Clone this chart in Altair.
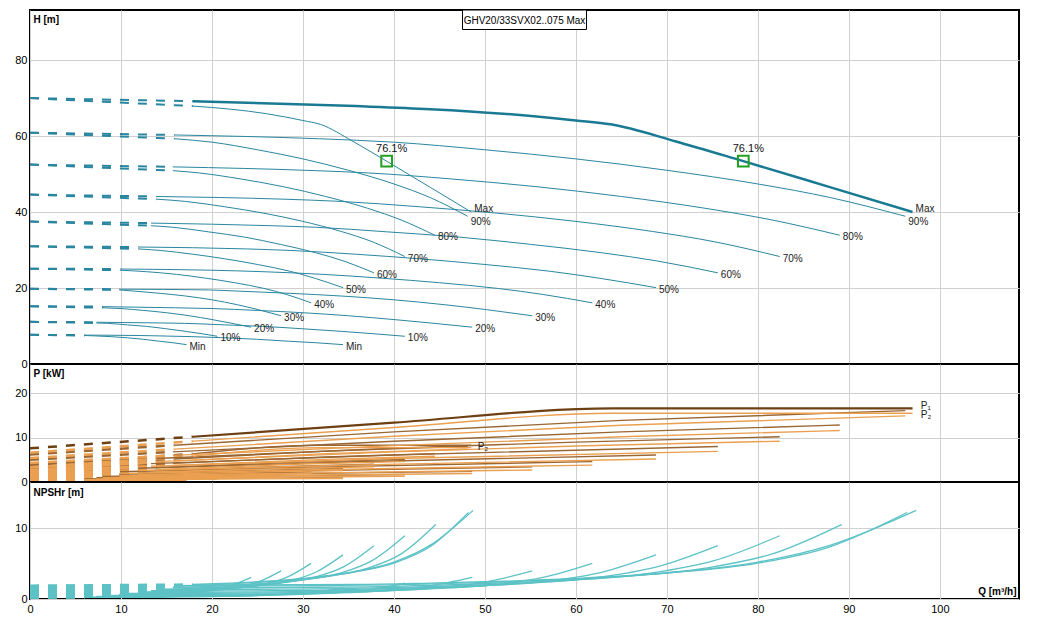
import altair as alt
import pandas as pd

SPEEDS = ["Max", "90%", "80%", "70%", "60%", "50%", "40%", "30%", "20%", "10%", "Min"]
X_TICKS = [0, 10, 20, 30, 40, 50, 60, 70, 80, 90, 100]
H_TICKS = [0, 20, 40, 60, 80]
P_TICKS = [0, 10, 20]
N_TICKS = [0, 10]
TITLE = "GHV20/33SVX02..075 Max"

# ---- Head, one pump (first point = shut-off, dashed up to the 2nd point)
H1_Q = [
    [0, 17.9, 22, 26, 30, 31.9, 35.5, 39.2, 44, 48.5],
    [0, 15.9, 20, 25, 30, 35, 40, 44, 48.1],
    [0, 15.7, 18.6, 23.2, 27.8, 32.5, 37.1, 40.8, 44.5],
    [0, 13.9, 17.1, 21.4, 25.7, 29.9, 34.2, 37.6, 41.2],
    [0, 13.3, 15.7, 19.6, 23.6, 27.5, 31.4, 34.5, 37.8],
    [0, 11.9, 14.3, 17.9, 21.4, 25.0, 28.6, 31.4, 34.4],
    [0, 9.9, 12.8, 16.1, 19.3, 22.5, 25.7, 28.2, 30.9],
    [0, 9.8, 11.4, 14.3, 17.1, 20.0, 22.8, 25.1, 27.6],
    [0, 8.0, 10.0, 12.5, 15.0, 17.5, 20.0, 22.0, 24.3],
    [0, 7.3, 8.5, 10.7, 12.8, 14.9, 17.1, 18.8, 20.6],
    [0, 6.0, 7.1, 8.9, 10.7, 12.5, 14.2, 15.7, 17.2],
]
H1_H = [
    [70.0, 67.9, 67.1, 65.9, 64.1, 63.1, 58.6, 53.4, 46.5, 40.0],
    [60.9, 59.3, 58.4, 56.4, 54.0, 51.0, 47.4, 43.8, 38.9],
    [52.5, 50.9, 50.3, 48.7, 46.7, 44.1, 41.0, 37.9, 33.9],
    [44.6, 43.4, 42.8, 41.4, 39.7, 37.6, 34.9, 32.2, 28.3],
    [37.5, 36.4, 36.0, 34.8, 33.4, 31.5, 29.3, 27.1, 24.0],
    [31.0, 30.3, 29.9, 28.9, 27.7, 26.2, 24.4, 22.5, 20.1],
    [25.1, 24.7, 24.3, 23.6, 22.6, 21.4, 19.9, 18.3, 16.1],
    [19.8, 19.5, 19.2, 18.6, 17.9, 16.9, 15.6, 14.3, 12.7],
    [15.2, 14.8, 14.6, 14.1, 13.5, 12.7, 11.7, 10.8, 9.7],
    [11.1, 10.8, 10.7, 10.3, 9.9, 9.3, 8.6, 8.0, 7.3],
    [7.7, 7.5, 7.4, 7.2, 6.9, 6.5, 6.0, 5.6, 5.1],
]
# ---- Head, two pumps
H2_Q = [
    [0, 17.9, 35.8, 44, 52, 60, 63.8, 71, 78.4, 88, 97.0],
    [0, 15.9, 31.8, 40, 50, 60, 70, 80, 88, 96.2],
    [0, 15.7, 31.4, 37.2, 46.4, 55.6, 65.0, 74.2, 81.6, 89.0],
    [0, 13.9, 27.8, 34.2, 42.8, 51.4, 59.8, 68.4, 75.2, 82.4],
    [0, 13.3, 26.6, 31.4, 39.2, 47.2, 55.0, 62.8, 69.0, 75.6],
    [0, 11.9, 23.8, 28.6, 35.8, 42.8, 50.0, 57.2, 62.8, 68.8],
    [0, 9.9, 19.8, 25.6, 32.2, 38.6, 45.0, 51.4, 56.4, 61.8],
    [0, 9.8, 19.6, 22.8, 28.6, 34.2, 40.0, 45.6, 50.2, 55.2],
    [0, 8.0, 16.0, 20.0, 25.0, 30.0, 35.0, 40.0, 44.0, 48.6],
    [0, 7.3, 14.6, 17.0, 21.4, 25.6, 29.8, 34.2, 37.6, 41.2],
    [0, 6.0, 12.0, 14.2, 17.8, 21.4, 25.0, 28.4, 31.4, 34.4],
]
H2_H = [
    [70.0, 69.2, 67.9, 67.1, 65.9, 64.1, 63.1, 58.6, 53.4, 46.5, 40.0],
    [60.9, 60.3, 59.3, 58.4, 56.4, 54.0, 51.0, 47.4, 43.8, 38.9],
    [52.5, 51.9, 50.9, 50.3, 48.7, 46.7, 44.1, 41.0, 37.9, 33.9],
    [44.6, 44.1, 43.4, 42.8, 41.4, 39.7, 37.6, 34.9, 32.2, 28.3],
    [37.5, 37.1, 36.4, 36.0, 34.8, 33.4, 31.5, 29.3, 27.1, 24.0],
    [31.0, 30.8, 30.3, 29.9, 28.9, 27.7, 26.2, 24.4, 22.5, 20.1],
    [25.1, 25.0, 24.7, 24.3, 23.6, 22.6, 21.4, 19.9, 18.3, 16.1],
    [19.8, 19.7, 19.5, 19.2, 18.6, 17.9, 16.9, 15.6, 14.3, 12.7],
    [15.2, 15.1, 14.8, 14.6, 14.1, 13.5, 12.7, 11.7, 10.8, 9.7],
    [11.1, 11.0, 10.8, 10.7, 10.3, 9.9, 9.3, 8.6, 8.0, 7.3],
    [7.7, 7.6, 7.5, 7.4, 7.2, 6.9, 6.5, 6.0, 5.6, 5.1],
]
# vertical label offsets (px) so that "Max" and "90%" at the curve ends stay readable
LABEL_DY = [-3, 6, 2, 2, 2, 2, 2, 2, 2, 2, 2]
MARK_Q = [39.2, 78.4]
MARK_H = [53.4, 53.4]
MARK_TXT = ["76.1%", "76.1%"]

# ---- Power, one pump
PS_Q = [
    [0, 17.9, 32.0, 48.5], [0, 15.9, 32.5, 48.1], [0, 15.7, 32.5, 44.5],
    [0, 13.9, 30.0, 41.2], [0, 13.3, 25.0, 37.8], [0, 11.9, 22.0, 34.4],
    [0, 9.9, 20.0, 30.9], [0, 9.8, 18.0, 27.6], [0, 8.0, 16.0, 24.3],
    [0, 7.3, 14.0, 20.6], [0, 6.0, 12.0, 17.2],
]
P1S = [
    [3.8, 6.35, 8.3, 8.3], [3.1, 5.2, 6.95, 8.05], [2.5, 4.2, 5.65, 6.4],
    [1.98, 3.25, 4.5, 5.1], [1.53, 2.55, 3.35, 4.0], [1.18, 1.95, 2.5, 3.05],
    [0.9, 1.38, 1.85, 2.3], [0.68, 1.08, 1.38, 1.7], [0.5, 0.77, 0.98, 1.2],
    [0.38, 0.58, 0.71, 0.85], [0.28, 0.4, 0.48, 0.55],
]
P2S = [
    [3.3, 5.8, 7.75, 7.75], [2.7, 4.7, 6.4, 7.45], [2.15, 3.75, 5.1, 5.8],
    [1.68, 2.85, 4.05, 4.6], [1.28, 2.2, 2.9, 3.45], [0.95, 1.65, 2.12, 2.6],
    [0.72, 1.13, 1.52, 1.9], [0.52, 0.86, 1.1, 1.35], [0.38, 0.6, 0.77, 0.95],
    [0.28, 0.43, 0.54, 0.65], [0.2, 0.29, 0.35, 0.4],
]
# ---- Power, two pumps
PD_Q = [
    [0, 17.9, 40.0, 64.0, 97.0], [0, 15.9, 40.0, 65.0, 96.2], [0, 15.7, 40.0, 65.0, 89.0],
    [0, 13.9, 40.0, 60.0, 82.4], [0, 13.3, 40.0, 75.6], [0, 11.9, 35.0, 68.8],
    [0, 9.9, 30.0, 61.8], [0, 9.8, 30.0, 55.2], [0, 8.0, 25.0, 48.6],
    [0, 7.3, 20.0, 41.2], [0, 6.0, 17.0, 34.4],
]
P1D = [
    [7.6, 10.2, 13.4, 16.6, 16.6], [6.2, 8.3, 11.3, 13.9, 16.1], [5.0, 6.8, 9.2, 11.3, 12.85],
    [3.95, 5.3, 7.6, 9.0, 10.2], [3.05, 4.15, 6.1, 8.0], [2.35, 3.1, 4.5, 6.1],
    [1.8, 2.3, 3.3, 4.6], [1.35, 1.75, 2.5, 3.4], [1.0, 1.25, 1.8, 2.4],
    [0.75, 0.95, 1.25, 1.7], [0.55, 0.7, 0.85, 1.1],
]
P2D = [
    [6.6, 9.2, 12.3, 15.5, 15.5], [5.4, 7.4, 10.3, 12.8, 14.9], [4.3, 6.0, 8.2, 10.2, 11.6],
    [3.35, 4.6, 6.8, 8.1, 9.2], [2.55, 3.55, 5.3, 6.9], [1.9, 2.6, 3.8, 5.2],
    [1.45, 1.9, 2.7, 3.8], [1.05, 1.4, 2.0, 2.7], [0.75, 0.95, 1.4, 1.9],
    [0.55, 0.7, 0.95, 1.3], [0.4, 0.5, 0.62, 0.8],
]
P_LABEL_TXT = ["P₂", "P₁", "P₂"]
P_LABEL_Q = [49.2, 97.9, 97.9]
P_LABEL_P = [7.8, 17.1, 15.0]

# ---- NPSHr, one pump
N1_Q = [
    [0, 17.9, 22, 26, 30, 35, 40, 44, 48.7],
    [0, 15.9, 20, 25, 30, 35, 40, 44, 48.2],
    [0, 15.7, 18.6, 23.2, 27.8, 32.5, 37.1, 40.8, 44.6],
    [0, 13.9, 17.1, 21.4, 25.7, 29.9, 34.2, 37.6, 41.2],
    [0, 13.3, 15.7, 19.6, 23.6, 27.5, 31.4, 34.5, 37.8],
    [0, 11.9, 14.3, 17.9, 21.4, 25.0, 28.6, 31.4, 34.4],
    [0, 9.9, 12.8, 16.1, 19.3, 22.5, 25.7, 28.2, 30.9],
    [0, 9.8, 11.4, 14.3, 17.1, 20.0, 22.8, 25.1, 27.6],
    [0, 8.0, 10.0, 12.5, 15.0, 17.5, 20.0, 22.0, 24.3],
    [0, 7.3, 8.5, 10.7, 12.8, 14.9, 17.1, 18.8, 20.6],
    [0, 6.0, 7.1, 8.9, 10.7, 12.5, 14.2, 15.7, 17.2],
]
N1 = [
    [1.85, 2.05, 2.25, 2.5, 2.9, 3.7, 5.2, 7.6, 12.5],
    [1.75, 1.9, 2.0, 2.35, 2.85, 3.65, 5.05, 7.4, 12.2],
    [1.51, 1.66, 1.72, 2.02, 2.45, 3.14, 4.35, 6.37, 10.5],
    [1.28, 1.39, 1.46, 1.72, 2.08, 2.67, 3.69, 5.41, 8.92],
    [1.08, 1.17, 1.23, 1.45, 1.76, 2.25, 3.11, 4.56, 7.52],
    [0.89, 0.97, 1.02, 1.20, 1.45, 1.86, 2.58, 3.77, 6.22],
    [0.72, 0.78, 0.82, 0.97, 1.17, 1.50, 2.08, 3.05, 5.03],
    [0.57, 0.62, 0.65, 0.76, 0.93, 1.19, 1.64, 2.41, 3.97],
    [0.44, 0.47, 0.50, 0.59, 0.71, 0.91, 1.26, 1.85, 3.04],
    [0.32, 0.35, 0.36, 0.43, 0.52, 0.66, 0.92, 1.35, 2.22],
    [0.22, 0.24, 0.25, 0.30, 0.36, 0.46, 0.64, 0.94, 1.55],
]
# ---- NPSHr, two pumps
N2_Q = [
    [0, 17.9, 35.8, 44, 52, 60, 70, 80, 88, 97.4],
    [0, 15.9, 31.8, 40, 50, 60, 70, 80, 88, 96.4],
    [0, 15.7, 31.4, 37.2, 46.4, 55.6, 65.0, 74.2, 81.6, 89.2],
    [0, 13.9, 27.8, 34.2, 42.8, 51.4, 59.8, 68.4, 75.2, 82.4],
    [0, 13.3, 26.6, 31.4, 39.2, 47.2, 55.0, 62.8, 69.0, 75.6],
    [0, 11.9, 23.8, 28.6, 35.8, 42.8, 50.0, 57.2, 62.8, 68.8],
    [0, 9.9, 19.8, 25.6, 32.2, 38.6, 45.0, 51.4, 56.4, 61.8],
    [0, 9.8, 19.6, 22.8, 28.6, 34.2, 40.0, 45.6, 50.2, 55.2],
    [0, 8.0, 16.0, 20.0, 25.0, 30.0, 35.0, 40.0, 44.0, 48.6],
    [0, 7.3, 14.6, 17.0, 21.4, 25.6, 29.8, 34.2, 37.6, 41.2],
    [0, 6.0, 12.0, 14.2, 17.8, 21.4, 25.0, 28.4, 31.4, 34.4],
]
N2 = [
    [1.85, 1.95, 2.05, 2.25, 2.5, 2.9, 3.7, 5.2, 7.6, 12.5],
    [1.75, 1.82, 1.9, 2.0, 2.35, 2.85, 3.65, 5.05, 7.4, 12.2],
    [1.51, 1.58, 1.66, 1.72, 2.02, 2.45, 3.14, 4.35, 6.37, 10.5],
    [1.28, 1.33, 1.39, 1.46, 1.72, 2.08, 2.67, 3.69, 5.41, 8.92],
    [1.08, 1.12, 1.17, 1.23, 1.45, 1.76, 2.25, 3.11, 4.56, 7.52],
    [0.89, 0.93, 0.97, 1.02, 1.20, 1.45, 1.86, 2.58, 3.77, 6.22],
    [0.72, 0.75, 0.78, 0.82, 0.97, 1.17, 1.50, 2.08, 3.05, 5.03],
    [0.57, 0.60, 0.62, 0.65, 0.76, 0.93, 1.19, 1.64, 2.41, 3.97],
    [0.44, 0.45, 0.47, 0.50, 0.59, 0.71, 0.91, 1.26, 1.85, 3.04],
    [0.32, 0.33, 0.35, 0.36, 0.43, 0.52, 0.66, 0.92, 1.35, 2.22],
    [0.22, 0.23, 0.24, 0.25, 0.30, 0.36, 0.46, 0.64, 0.94, 1.55],
]

# ---------------- styling ----------------
TEAL = "#2a86a0"
TEAL_THICK = "#1a7a94"
NPSH_C = "#5cc2c6"
P1_C = "#9a6632"
P1_MAX_C = "#6e3f12"
P2_C = "#eaa050"
GREEN = "#22a022"
GRID = "#d0d0d0"
FONT = "Liberation Sans"

W = 989
HT, HM, HB = 354, 118, 117
QMAX = 108.7
EXT = 21


def split(q_lists, v_lists, tag, c1=None, c_first=None):
    dash, solid, ends = [], [], []
    for i, (qs, vs) in enumerate(zip(q_lists, v_lists)):
        cid = f"{tag}{i}"
        col = c_first if (c_first and i == 0) else c1
        for j, (q, v) in enumerate(zip(qs, vs)):
            row = {"id": cid, "o": j, "Q": q, "V": v, "c": col}
            if j <= 1:
                dash.append(row)
            if j >= 1:
                solid.append(row)
        ends.append({"Q": qs[-1], "V": vs[-1], "label": SPEEDS[i], "dy": LABEL_DY[i]})
    return dash, solid, ends


def xenc(bottom=False):
    if bottom:
        ax = alt.Axis(values=X_TICKS, grid=True, gridColor=GRID, ticks=False, domain=False,
                      labelFlush=False, labelPadding=4, labelFontSize=11, labelColor="#000",
                      labelFont=FONT, title="Q [m³/h]", titleAlign="right", titleBaseline="bottom",
                      titleX=W - 3, titleY=-3, titleFontSize=10, titleFontWeight="bold",
                      titleColor="#000", titleFont=FONT)
    else:
        ax = alt.Axis(values=X_TICKS, grid=True, gridColor=GRID, ticks=False, domain=False,
                      labels=False, title=None)
    return alt.X("Q:Q", scale=alt.Scale(domain=[0, QMAX], nice=False, zero=False), axis=ax)


def yenc(domain, ticks, title, ty):
    return alt.Y("V:Q", scale=alt.Scale(domain=domain, nice=False, zero=False),
                 axis=alt.Axis(values=ticks, grid=True, gridColor=GRID, ticks=False, domain=False,
                               labelPadding=3, labelFontSize=11, labelColor="#000", labelFont=FONT,
                               minExtent=EXT, maxExtent=EXT, title=title, titleAngle=0,
                               titleAlign="left", titleBaseline="top", titleX=3, titleY=ty,
                               titleFontSize=10, titleFontWeight="bold", titleColor="#000",
                               titleFont=FONT))


# ---------------- head panel ----------------
d1, s1, e1 = split(H1_Q, H1_H, "a")
d2, s2, e2 = split(H2_Q, H2_H, "b")
h_dash = pd.DataFrame(d1 + d2)
h_solid = pd.DataFrame(s1 + s2)
h_end = pd.DataFrame(e1 + e2)
thin = h_solid[h_solid["id"] != "b0"]
thick = h_solid[h_solid["id"] == "b0"]

XT = xenc()
YH = yenc([0, 93.2], H_TICKS, "H [m]", 4)

top_layers = [
    alt.Chart(h_dash).mark_line(strokeDash=[9, 9], strokeWidth=2, color=TEAL, clip=True)
    .encode(x=XT, y=YH, detail="id:N", order="o:Q"),
    alt.Chart(thin).mark_line(interpolate="monotone", strokeWidth=1, color=TEAL, clip=True)
    .encode(x=XT, y=YH, detail="id:N", order="o:Q"),
    alt.Chart(thick).mark_line(interpolate="monotone", strokeWidth=2.5, color=TEAL_THICK, clip=True)
    .encode(x=XT, y=YH, detail="id:N", order="o:Q"),
]
for dyv in sorted(set(LABEL_DY)):
    sub = h_end[h_end["dy"] == dyv]
    top_layers.append(
        alt.Chart(sub).mark_text(align="left", baseline="middle", dx=3, dy=dyv, fontSize=10,
                                 font=FONT, color="#222")
        .encode(x=XT, y=YH, text="label:N"))
mk = pd.DataFrame({"Q": MARK_Q, "V": MARK_H, "t": MARK_TXT})
top_layers += [
    alt.Chart(mk).mark_point(shape="square", filled=False, size=115, strokeWidth=2,
                             color=GREEN, opacity=1).encode(x=XT, y=YH),
    alt.Chart(mk).mark_text(dx=5, dy=-12, fontSize=11, font=FONT, color="#111")
    .encode(x=XT, y=YH, text="t:N"),
]
tb = pd.DataFrame({"t": [TITLE]})
top_layers += [
    alt.Chart(tb).mark_rect(fill="white", stroke="black", strokeWidth=1)
    .encode(x=alt.value(W / 2 - 62), x2=alt.value(W / 2 + 62), y=alt.value(0), y2=alt.value(19.5)),
    alt.Chart(tb).mark_text(fontSize=10, font=FONT, color="#000", baseline="middle")
    .encode(x=alt.value(W / 2), y=alt.value(10.5), text="t:N"),
]
top = alt.layer(*top_layers).properties(width=W, height=HT)

# ---------------- power panel ----------------
pc_d, pc_s, _ = split(PS_Q, P1S, "p1s", P1_C)
pe_d, pe_s, _ = split(PD_Q, P1D, "p1d", P1_C, P1_MAX_C)
pa_d, pa_s, _ = split(PS_Q, P2S, "p2s", P2_C)
pb_d, pb_s, _ = split(PD_Q, P2D, "p2d", P2_C)
p_dash = pd.DataFrame(pc_d + pe_d + pa_d + pb_d)
p_solid = pd.DataFrame(pc_s + pe_s + pa_s + pb_s)
p_main = p_solid[p_solid["id"] != "p1d0"]
p_max = p_solid[p_solid["id"] == "p1d0"]
p_lab = pd.DataFrame({"Q": P_LABEL_Q, "V": P_LABEL_P, "t": P_LABEL_TXT})

YP = yenc([0, 26.6], P_TICKS, "P [kW]", 4)
mid = alt.layer(
    alt.Chart(p_dash).mark_line(strokeDash=[9, 9], strokeWidth=2.5, clip=True)
    .encode(x=XT, y=YP, color=alt.Color("c:N", scale=None), detail="id:N", order="o:Q"),
    alt.Chart(p_main).mark_line(interpolate="monotone", strokeWidth=1.4, clip=True)
    .encode(x=XT, y=YP, color=alt.Color("c:N", scale=None), detail="id:N", order="o:Q"),
    alt.Chart(p_max).mark_line(interpolate="monotone", strokeWidth=2.2, clip=True)
    .encode(x=XT, y=YP, color=alt.Color("c:N", scale=None), detail="id:N", order="o:Q"),
    alt.Chart(p_lab).mark_text(align="left", baseline="middle", fontSize=10, font=FONT, color="#222")
    .encode(x=XT, y=YP, text="t:N"),
).properties(width=W, height=HM)

# ---------------- NPSH panel ----------------
na_d, na_s, _ = split(N1_Q, N1, "n1", NPSH_C)
nb_d, nb_s, _ = split(N2_Q, N2, "n2", NPSH_C)
n_dash = pd.DataFrame(na_d + nb_d)
n_solid = pd.DataFrame(na_s + nb_s)

XB = xenc(bottom=True)
YN = yenc([0, 16.5], N_TICKS, "NPSHr [m]", 5)
bot = alt.layer(
    alt.Chart(n_dash).mark_line(strokeDash=[9, 9], strokeWidth=2.5, color=NPSH_C, clip=True)
    .encode(x=XB, y=YN, detail="id:N", order="o:Q"),
    alt.Chart(n_solid).mark_line(interpolate="monotone", strokeWidth=1.3, color=NPSH_C, clip=True)
    .encode(x=XB, y=YN, detail="id:N", order="o:Q"),
).properties(width=W, height=HB)

chart = (
    alt.vconcat(top, mid, bot, spacing=0, bounds="flush")
    .properties(padding=0)
    .configure(font=FONT)
    .configure_view(stroke="black", strokeWidth=2)
)

chart.save("out.html", embed_options={"renderer": "svg", "actions": False})
